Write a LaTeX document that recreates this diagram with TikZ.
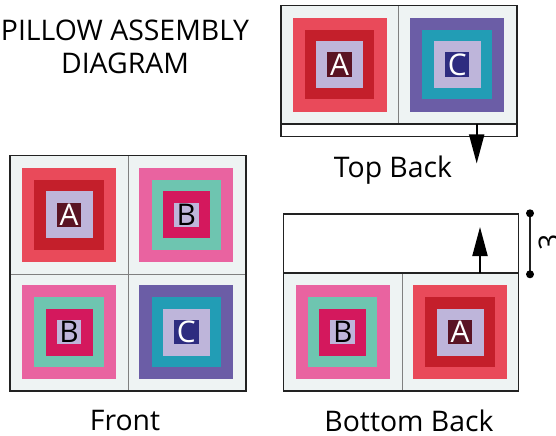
\documentclass[tikz,border=0pt]{standalone}
\usepackage{fontspec}
\setmainfont{Open Sans}
\usetikzlibrary{arrows.meta}
\definecolor{cellbg}{HTML}{EEF3F3}
\definecolor{aOut}{HTML}{E94A5A}
\definecolor{aMid}{HTML}{C41F2B}
\definecolor{lav}{HTML}{BEB5DA}
\definecolor{aLet}{HTML}{5A1424}
\definecolor{bOut}{HTML}{E963A0}
\definecolor{bMid}{HTML}{6EC5B0}
\definecolor{bIn}{HTML}{D4185D}
\definecolor{cOut}{HTML}{6B5DA6}
\definecolor{cMid}{HTML}{229DB5}
\definecolor{cLet}{HTML}{2E2C80}
\definecolor{frame}{HTML}{222222}
\definecolor{divider}{HTML}{808080}
\tikzset{
  sq/.style={draw=none,inner sep=0pt,outer sep=0pt,minimum size=#1,rectangle},
  panel/.style={draw=frame,line width=1.6bp},
  divline/.style={draw=divider,line width=1bp},
  lettxt/.style={font=\fontsize{30}{30}\selectfont},
  label/.style={font=\fontsize{28.5}{33}\selectfont,align=center,text=black,inner sep=1bp},
  arrowline/.style={line width=2bp,draw=black,-{Triangle[length=29bp,width=15bp]}},
}
% block: name, center, outer, mid, inner, letter-square fill, letter colour, letter
\newcommand\quiltblock[8]{%
  \node[sq=94bp,fill=#3] (#1) at #2 {};
  \node[sq=69.5bp,fill=#4] (#1m) at (#1.center) {};
  \node[sq=47bp,fill=#5] (#1i) at (#1.center) {};
  \node[sq=24.5bp,fill=#6,text=#7,lettxt] (#1l) at (#1.center) {#8};
}
\begin{document}
\begin{tikzpicture}[x=1bp,y=-1bp]
\useasboundingbox (0,0) rectangle (556,436);
% title
\node[label] (title) at (125,47) {PILLOW ASSEMBLY\\DIAGRAM};
% ---------- Top Back ----------
\fill[cellbg] (281,5.7) rectangle (516.7,124);
\fill[white] (281,124) rectangle (516.7,136.7);
\draw[divline] (398.7,5.7) -- (398.7,124);
\quiltblock{tA}{(339.5,64.7)}{aOut}{aMid}{lav}{aLet}{white}{A}
\quiltblock{tC}{(457.2,64.7)}{cOut}{cMid}{lav}{cLet}{white}{C}
\draw[panel] (281,5.7) rectangle (516.7,136.7);
\draw[panel] (281,124) -- (516.7,124);
\coordinate (tArrS) at (476.7,124);
\coordinate (tArrE) at (476.7,163.5);
\draw[arrowline] (tArrS) -- (tArrE);
\node[label] (toplbl) at (393,170.5) {Top Back};
% ---------- Front ----------
\fill[cellbg] (10,155.7) rectangle (245.7,391);
\draw[divline] (128,155.7) -- (128,391);
\draw[divline] (10,274) -- (245.7,274);
\quiltblock{fA}{(69,215)}{aOut}{aMid}{lav}{aLet}{white}{A}
\quiltblock{fB}{(186.3,215)}{bOut}{bMid}{bIn}{lav}{black}{B}
\quiltblock{fB2}{(69,332.2)}{bOut}{bMid}{bIn}{lav}{black}{B}
\quiltblock{fC}{(186.3,332.2)}{cOut}{cMid}{lav}{cLet}{white}{C}
\draw[panel] (10,155.7) rectangle (245.7,391);
\node[label] (frontlbl) at (125,420.5) {Front};
% ---------- Bottom Back ----------
\fill[white] (283.3,214.3) rectangle (518.3,272.7);
\fill[cellbg] (283.3,272.7) rectangle (518.3,391);
\draw[divline] (402,272.7) -- (402,391);
\quiltblock{bB}{(342.7,332)}{bOut}{bMid}{bIn}{lav}{black}{B}
\quiltblock{bA}{(460,332)}{aOut}{aMid}{lav}{aLet}{white}{A}
\draw[panel] (283.3,214.3) rectangle (518.3,391);
\draw[panel] (283.3,272.7) -- (518.3,272.7);
\coordinate (bArrS) at (480,272.7);
\coordinate (bArrE) at (480,227);
\draw[arrowline] (bArrS) -- (bArrE);
\node[label] (botlbl) at (409,420.5) {Bottom Back};
% dimension
\coordinate (dimT) at (530,213.3);
\coordinate (dimB) at (530,274.3);
\draw[line width=2bp,frame] (dimT) -- (dimB);
\fill[black] (dimT) circle (4bp);
\fill[black] (dimB) circle (4bp);
\node[label,rotate=90] (dimlbl) at (549,242) {3};
\end{tikzpicture}
\end{document}
